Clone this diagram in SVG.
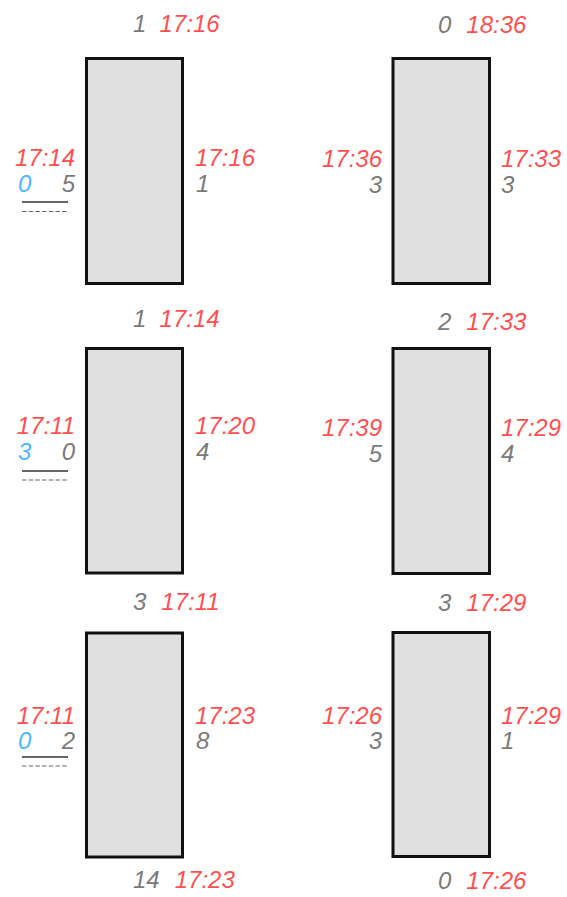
<svg xmlns="http://www.w3.org/2000/svg" width="567" height="897" viewBox="0 0 567 897">
<style>
text{font-family:"Liberation Sans",Arial,sans-serif;font-style:italic;font-size:24px}
.r{fill:#ff4f4f}
.g{fill:#7a7a7a}
.b{fill:#4cb8ff}
.e{text-anchor:end}
.box{fill:#e0e0e0;stroke:#111;stroke-width:3}
.sl{stroke:#333;stroke-width:1.6}
.dl{stroke:#666;stroke-width:1.2;stroke-dasharray:4.5 2.2}
</style>
<rect width="567" height="897" fill="#fff"/>
<g id="node-l1">
<rect class="box" x="86.5" y="58.5" width="96" height="225"/>
<text x="133" y="32"><tspan class="g">1</tspan><tspan class="r" dx="15">17:16</tspan></text>
<text class="r e" x="75" y="166">17:14</text>
<text class="b" x="18" y="192">0</text>
<text class="g e" x="75" y="192">5</text>
<line class="sl" x1="22" y1="202" x2="68" y2="202"/>
<line class="dl" x1="22" y1="211.5" x2="68" y2="211.5"/>
<text class="r" x="195" y="166">17:16</text>
<text class="g" x="196" y="192">1</text>
</g>
<g id="node-r1">
<rect class="box" x="393" y="58.5" width="96.5" height="225"/>
<text x="438" y="32.5"><tspan class="g">0</tspan><tspan class="r" dx="15">18:36</tspan></text>
<text class="r e" x="382" y="166.5">17:36</text>
<text class="g e" x="382" y="192.5">3</text>
<text class="r" x="501" y="166.5">17:33</text>
<text class="g" x="501" y="192.5">3</text>
</g>
<g id="node-l2">
<rect class="box" x="86.5" y="348.5" width="96" height="224.5"/>
<text x="133" y="327"><tspan class="g">1</tspan><tspan class="r" dx="15">17:14</tspan></text>
<text class="r e" x="75" y="433.5">17:11</text>
<text class="b" x="18" y="460">3</text>
<text class="g e" x="75" y="460">0</text>
<line class="sl" x1="22" y1="471" x2="68" y2="471"/>
<line class="dl" x1="22" y1="480" x2="68" y2="480"/>
<text class="r" x="195" y="433.5">17:20</text>
<text class="g" x="196" y="460">4</text>
</g>
<g id="node-r2">
<rect class="box" x="393" y="348.5" width="96.5" height="225"/>
<text x="438" y="329.5"><tspan class="g">2</tspan><tspan class="r" dx="15">17:33</tspan></text>
<text class="r e" x="382" y="435.5">17:39</text>
<text class="g e" x="382" y="462">5</text>
<text class="r" x="501" y="435.5">17:29</text>
<text class="g" x="501" y="462">4</text>
</g>
<g id="node-l3">
<rect class="box" x="86.5" y="633" width="96" height="224"/>
<text x="133" y="610"><tspan class="g">3</tspan><tspan class="r" dx="15">17:11</tspan></text>
<text class="r e" x="75" y="723.5">17:11</text>
<text class="b" x="18" y="748.5">0</text>
<text class="g e" x="75" y="748.5">2</text>
<line class="sl" x1="22" y1="757" x2="68" y2="757"/>
<line class="dl" x1="22" y1="766" x2="68" y2="766"/>
<text class="r" x="195" y="723.5">17:23</text>
<text class="g" x="196" y="748.5">8</text>
<text x="133" y="888"><tspan class="g">14</tspan><tspan class="r" dx="15">17:23</tspan></text>
</g>
<g id="node-r3">
<rect class="box" x="393" y="632.5" width="96.5" height="224"/>
<text x="438" y="610.5"><tspan class="g">3</tspan><tspan class="r" dx="15">17:29</tspan></text>
<text class="r e" x="382" y="723.5">17:26</text>
<text class="g e" x="382" y="749">3</text>
<text class="r" x="501" y="723.5">17:29</text>
<text class="g" x="501" y="749">1</text>
<text x="438" y="889"><tspan class="g">0</tspan><tspan class="r" dx="15">17:26</tspan></text>
</g>
<g id="connectors"/>
</svg>
